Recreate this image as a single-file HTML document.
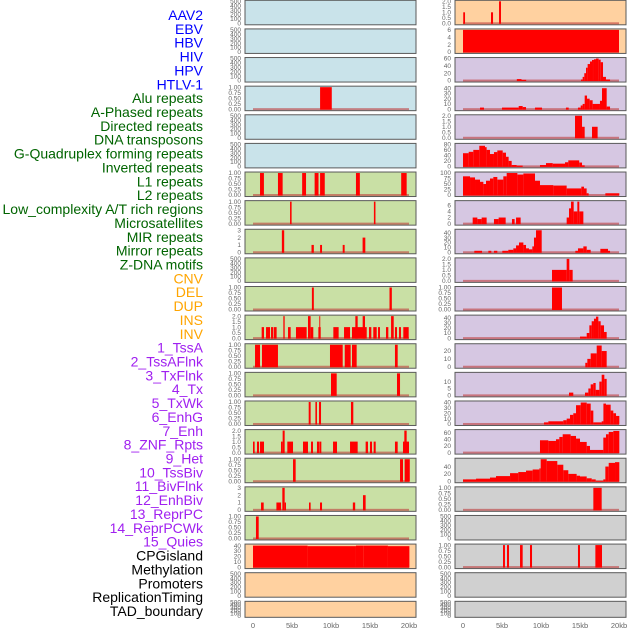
<!DOCTYPE html>
<html><head><meta charset="utf-8"><style>
html,body{margin:0;padding:0;background:#fff;}
svg{display:block;font-family:"Liberation Sans","DejaVu Sans",sans-serif;}
</style></head><body>
<svg id="chart" width="630" height="630" viewBox="0 0 630 630"></svg>
<script>
const trackLabels = ["AAV2","EBV","HBV","HIV","HPV","HTLV-1","Alu repeats","A-Phased repeats","Directed repeats","DNA transposons","G-Quadruplex forming repeats","Inverted repeats","L1 repeats","L2 repeats","Low_complexity A/T rich regions","Microsatellites","MIR repeats","Mirror repeats","Z-DNA motifs","CNV","DEL","DUP","INS","INV","1_TssA","2_TssAFlnk","3_TxFlnk","4_Tx","5_TxWk","6_EnhG","7_Enh","8_ZNF_Rpts","9_Het","10_TssBiv","11_BivFlnk","12_EnhBiv","13_ReprPC","14_ReprPCWk","15_Quies","CPGisland","Methylation","Promoters","ReplicationTiming","TAD_boundary"];
const labelColors = [6,"#0000ff",13,"#006400",5,"#ffa500",15,"#a020f0",5,"#000000"];
const xTickLabels = ["0","5kb","10kb","15kb","20kb"];
const xTickValues = [0,5,10,15,20];

const E = ["0","100","200","300","400","500"];
const B = ["0.00","0.25","0.50","0.75","1.00"];
const H = ["0.0","0.5","1.0","1.5","2.0"];

const leftTicks = [E,E,E,B,E,E,B,B,["0","1","2","3"],E,B,H,B,B,B,H,B,["0","1","2","3"],B,["0","10","20","30","40"],E,E];
const leftMax = [500,500,500,1,500,500,1,1,3,500,1,2,1,1,1,2,1,3,1,41,500,500];
const leftBg = ["#c9e3ea","#c9e3ea","#c9e3ea","#c9e3ea","#c9e3ea","#c9e3ea","#c9e0a5","#c9e0a5","#c9e0a5","#c9e0a5","#c9e0a5","#c9e0a5","#c9e0a5","#c9e0a5","#c9e0a5","#c9e0a5","#c9e0a5","#c9e0a5","#c9e0a5","#ffd1a0","#ffd1a0","#ffd1a0"];
const leftSegs = [
 null,null,null,
 [[8.6,10.1,1]],
 null,null,
 [[0.9,1.4,1],[3.2,3.8,1],[6.3,6.8,1],[7.9,8.4,1],[8.6,9.2,1],[13.2,13.7,1],[19.0,19.7,1]],
 [[4.75,4.95,1],[15.5,15.7,1]],
 [[3.7,4.0,3],[7.5,7.8,1],[8.6,8.85,1],[11.5,11.75,1],[14.05,14.4,2]],
 null,
 [[7.55,7.8,1],[17.5,17.8,1]],
 [[1.11,1.41,1],[1.67,2.18,1],[2.31,2.61,1],[2.69,3.03,1],[3.89,4.06,2],[4.49,4.83,1],[5.51,6.88,1],[7.05,7.39,2],[7.39,7.73,1],[8.38,8.68,1],[8.5,8.62,2],[10.3,10.98,1],[11.67,12.44,1],[12.69,14.58,1],[13.12,13.42,2],[14.06,14.36,2],[14.87,15.17,1],[15.42,15.86,1],[16.03,16.28,1],[17.05,17.35,1],[17.7,18.04,2],[18.2,18.46,1],[18.72,18.97,1],[19.27,19.96,1]],
 [[0.26,0.9,1],[1.15,3.2,1],[9.87,11.5,1],[11.76,12.52,1],[12.69,13.29,1],[18.2,18.55,1]],
 [[10.0,10.73,1],[18.46,18.85,1]],
 [[7.14,7.39,1],[8.0,8.2,1],[8.46,8.72,1],[12.56,12.86,1]],
 [[0.0,0.21,1],[0.51,0.77,1],[0.9,1.41,1],[3.59,3.8,1],[3.8,4.06,2],[4.4,5.13,1],[6.41,7.05,1],[7.44,7.69,1],[8.2,8.46,1],[8.5,8.76,1],[10.26,10.77,1],[12.44,13.42,1],[14.44,14.74,1],[15.0,15.26,1],[15.47,15.73,1],[18.2,18.55,1],[19.23,20.0,1],[19.4,19.7,2]],
 [[5.13,5.47,1],[18.85,19.23,1],[19.44,20.1,1]],
 [[1.03,1.37,1],[3.0,3.6,1],[3.76,4.06,3],[4.06,4.23,1],[7.18,7.39,1],[8.59,8.85,1],[12.8,13.1,1],[14.1,14.44,2]],
 [[0.38,0.73,1]],
 [[0,7.0,40],[7.0,13.2,39],[13.2,14.2,40],[14.2,17.3,40],[17.3,20.05,39]],
 null,null
];

const rightTicks = [H,["0","2","4","6"],["0","20","40","60"],["0","10","20","30","40"],H,["0","20","40","60","80"],["0","25","50","75","100"],["0","2","4","6"],["0","10","20","30","40"],H,B,["0","10","20","30","40"],["0","10","20"],["0","5","10"],["0","10","20","30","40"],["0","20","40","60"],["0","20","40"],B,E,B,E,E];
const rightMax = [2,6,60,42,2,80,100,7.2,45,2,1,43,28,16,41,66,60,1,500,1,500,500];
const rightBg = ["#ffd1a0","#ffd1a0","#d6c7e2","#d6c7e2","#d6c7e2","#d6c7e2","#d6c7e2","#d6c7e2","#d6c7e2","#d6c7e2","#d6c7e2","#d6c7e2","#d6c7e2","#d6c7e2","#d6c7e2","#d6c7e2","#d0d0d0","#d0d0d0","#d0d0d0","#d0d0d0","#d0d0d0","#d0d0d0"];
const rightSegs = [
 [[0.03,0.26,1],[3.59,3.85,1],[4.62,4.87,2]],
 [[0,20,6]],
 [[6.9,7.5,4],[7.5,8.1,2],[15.13,15.34,3],[15.34,15.55,10],[15.55,15.77,20],[15.77,15.98,35],[15.98,16.28,45],[16.28,16.54,52],[16.54,16.79,56],[16.79,17.05,58],[17.05,17.39,60],[17.39,17.65,57],[17.65,17.95,50],[17.95,18.33,10],[18.33,18.85,3]],
 [[2.18,2.69,3],[5.0,7.14,3],[7.14,7.65,6],[7.65,8.08,4],[9.23,10.13,3],[13.2,13.55,3],[14.74,15.09,3],[15.09,15.34,7],[15.34,15.6,10],[15.6,15.9,26],[15.9,16.24,20],[16.24,16.62,17],[16.62,17.56,10],[17.56,17.82,16],[17.82,18.42,40],[18.42,18.85,5]],
 [[14.36,15.26,2],[15.26,15.6,1],[16.54,17.26,1]],
 [[0,0.73,48],[0.73,1.32,53],[1.32,2.09,60],[2.09,2.82,75],[2.82,3.03,70],[3.03,3.46,60],[3.46,3.97,45],[3.97,4.4,52],[4.4,5.09,58],[5.09,5.51,50],[5.51,5.85,35],[5.85,6.24,20],[6.24,6.88,5],[6.88,7.65,3],[9.87,10.64,5],[10.64,11.5,12],[11.5,13.08,10],[13.08,13.5,15],[13.5,14.9,22],[14.9,15.26,14],[15.26,15.6,4]],
 [[0,0.9,85],[0.9,1.54,80],[1.54,2.18,70],[2.18,2.61,60],[2.61,2.95,50],[2.95,3.46,65],[3.46,3.89,75],[3.89,4.4,82],[4.4,5.17,70],[5.17,5.6,85],[5.6,6.97,100],[6.97,7.74,93],[7.74,9.23,98],[9.23,9.87,65],[9.87,11.58,45],[11.58,13.29,43],[13.29,15.17,30],[15.17,15.51,38],[15.51,15.85,30],[15.85,16.11,8],[18.25,20.04,8]],
 [[1.24,1.84,2],[1.84,2.39,1.5],[2.39,3.03,2],[3.97,4.57,1.5],[4.57,5.47,2],[6.28,6.62,1.5],[6.8,7.39,2],[13.29,13.59,2],[13.59,13.85,5],[13.85,14.19,7.2],[14.19,14.66,4],[14.66,14.91,7.2],[14.91,15.43,4]],
 [[1.45,2.44,3],[3.25,3.63,3],[3.97,4.4,3],[5.04,5.81,3],[5.81,6.45,5],[6.45,6.8,8],[6.8,7.18,14],[7.18,7.74,20],[7.74,8.08,15],[8.08,8.46,8],[8.46,8.89,6],[8.89,9.1,12],[9.1,9.36,30],[9.36,10.09,45],[14.4,14.74,3],[14.74,15.43,8],[15.43,15.86,12],[15.86,16.37,5],[17.61,18.59,7],[18.59,18.85,3]],
 [[11.41,13.29,1],[13.29,13.63,2],[13.63,14.06,1]],
 [[11.41,12.69,1]],
 [[15.0,15.86,3],[15.86,16.2,10],[16.2,16.5,25],[16.5,16.79,33],[16.79,17.05,38],[17.05,17.35,42],[17.35,17.65,33],[17.65,18.08,25],[18.08,18.42,12]],
 [[15.68,15.94,5],[15.94,16.37,10],[16.37,17.14,17],[17.14,17.78,27],[17.78,18.42,20]],
 [[13.59,14.14,2],[15.64,16.07,2],[16.07,16.37,5],[16.37,16.71,8],[16.71,17.01,9],[17.01,17.48,4],[17.48,17.78,10],[17.78,18.12,15],[18.12,18.42,12]],
 [[10.38,10.94,3],[10.94,12.86,5],[12.86,13.29,7],[13.29,13.72,10],[13.72,14.14,17],[14.14,14.49,20],[14.49,15.09,35],[15.09,15.86,40],[15.86,16.37,38],[16.37,16.71,25],[16.71,17.78,3],[17.78,18.0,5],[18.0,18.33,38],[18.33,18.93,36],[18.93,19.27,25],[19.27,19.62,20],[19.62,20.04,15]],
 [[9.87,10.94,37],[10.94,11.92,35],[11.92,12.35,40],[12.35,12.78,47],[12.78,13.8,55],[13.8,14.49,50],[14.49,15.0,42],[15.0,15.86,32],[15.86,16.28,20],[16.28,17.99,8],[17.99,18.33,45],[18.33,18.68,55],[18.68,19.27,62],[19.27,20.04,65]],
 [[0,1.67,5],[1.67,3.46,7],[3.46,4.23,10],[4.23,6.03,14],[6.03,7.09,22],[7.09,8.08,25],[8.08,8.93,29],[8.93,9.79,32],[9.79,9.96,35],[9.96,10.73,60],[10.73,12.09,55],[12.09,12.86,45],[12.86,13.5,30],[13.5,14.57,20],[14.57,15.0,15],[15.0,15.86,13],[15.86,16.5,8],[16.5,17.01,5],[17.01,17.99,1],[17.99,18.25,5],[18.25,18.68,40],[18.68,19.49,50],[19.49,20.04,52]],
 [[16.71,17.78,1]],
 null,
 [[5.13,5.38,1],[5.64,5.9,1],[7.31,7.65,1],[8.59,8.85,1],[14.74,15.0,1],[16.97,17.82,1]],
 null,null
];

const NS="http://www.w3.org/2000/svg";
const svg=document.getElementById('chart');
function mk(tag,attrs,parent){const el=document.createElementNS(NS,tag);for(const k in attrs)el.setAttribute(k,attrs[k]);(parent||svg).appendChild(el);return el;}

// labels
let idx=0;
for(let c=0;c<labelColors.length;c+=2){
  for(let j=0;j<labelColors[c];j++){
    const t=mk('text',{x:203,y:15+idx*13.86+5,'text-anchor':'end','font-size':14,fill:labelColors[c+1]});
    
    
    t.textContent=trackLabels[idx];idx++;
  }
}

function rowTop(i){return 0.3+28.62*i;}
function rowH(i){return i===21?16:24.5;}
function xScale(x0,kb){return x0+8+kb*7.8;}

function drawCol(side,x0,ticks,maxes,bgs,segs){
  for(let i=0;i<22;i++){
    const top=rowTop(i),h=rowH(i),w=171;
    const g=mk('g',{});
    
    
    const r=mk('rect',{x:x0,y:top,width:w,height:h,fill:bgs[i],stroke:'#5a5a5a','stroke-width':1},g);
    
    
    const y0=top+h-1.5,y1=top+1;
    const ys=v=>y0-(v/maxes[i])*(y0-y1);
    const tk=ticks[i];
    for(let k=0;k<tk.length;k++){
      const v=parseFloat(tk[k]);
      const t=mk('text',{x:x0-4,y:ys(Math.min(v,maxes[i]))+2.2,'text-anchor':'end','font-size':6.5,fill:'#666'},g);
      
      
      t.textContent=tk[k];
    }
    const s=segs[i];
    if(s){
      const bl=mk('rect',{x:xScale(x0,0),y:y0-1,width:xScale(x0,20)-xScale(x0,0),height:2,fill:'rgba(190,60,60,0.6)'},g);
      
      
      for(const seg of s){
        const xa=xScale(x0,seg[0]),xb=xScale(x0,seg[1]),yt=ys(seg[2]);
        const b=mk('rect',{x:xa,y:yt,width:Math.max(0.8,xb-xa),height:y0-yt+0.5,fill:'#ff0000'},g);
        
        
      }
    }
  }
  for(let k=0;k<xTickValues.length;k++){
    const t=mk('text',{x:xScale(x0,xTickValues[k]),y:628,'text-anchor':'middle','font-size':7.5,fill:'#666'});
    
    
    t.textContent=xTickLabels[k];
  }
}
drawCol('left',245,leftTicks,leftMax,leftBg,leftSegs);
drawCol('right',455,rightTicks,rightMax,rightBg,rightSegs);
</script>
</body></html>
